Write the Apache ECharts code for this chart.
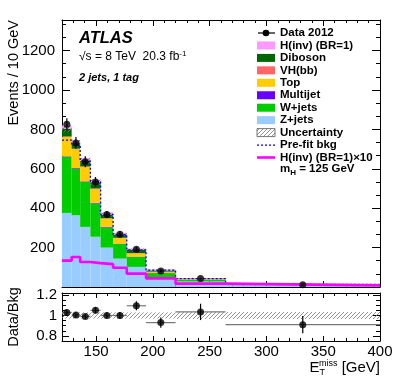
<!DOCTYPE html>
<html>
<head>
<meta charset="UTF-8">
<title>ZH(inv) 2 jets, 1 tag - MET</title>
<script src="https://cdn.jsdelivr.net/npm/echarts@6/dist/echarts.min.js"></script>
<style>
  html, body { margin: 0; padding: 0; background: #fff; }
  #chart { width: 399px; height: 383px; }
</style>
</head>
<body>
<div id="chart"></div>
<script>
// bin edges, E_T^miss [GeV]
var binEdges = [120, 128.5, 136, 145, 154, 165, 177, 194, 220, 264, 400];

// events / 10 GeV in each bin (stack, bottom to top)
var zjets    = [376, 364, 305, 255, 200, 144, 102, 50, 28, 9];
var wjets    = [284, 237, 228, 169, 102, 74, 50, 20, 8, 2.5];
var multijet = [3, 3, 3, 3, 3, 2, 2, 1, 0.5, 0.2];
var topQuark = [98, 95, 73, 70, 42, 28, 16, 6, 3, 0.8];
var vhbb     = [3, 3, 3, 3, 2, 2, 2, 1, 0.5, 0.2];
var diboson  = [40, 28, 28, 32, 18, 16, 16, 6, 3, 0.6];
var hinv     = [13, 15, 13, 12, 11.5, 9.5, 7, 4.5, 2, 0.8];

var hinvX10  = [134, 152, 127, 121, 116, 98, 68, 44, 17, 8];
var prefit   = [745, 720, 640, 535, 368, 266, 188, 86, 43, 13];
var bkgUnc   = [20, 18, 16, 14, 10, 8, 7, 4, 2, 1];
var data     = [826, 731, 636, 533, 368, 268, 192, 81, 43, 12];
var dataErr  = [30, 30, 28, 25, 18, 15, 11, 6, 3, 1];

// ratio panel
var ratio    = [1.03, 1.005, 0.99, 1.05, 1.0, 1.0, 1.095, 0.93, 1.035, 0.91];
var ratioErr = [0.025, 0.025, 0.025, 0.03, 0.03, 0.035, 0.045, 0.05, 0.08, 0.085];
var ratioUnc = [0.03, 0.03, 0.03, 0.03, 0.03, 0.03, 0.03, 0.03, 0.035, 0.035];

// axes
var xMin = 120, xMax = 400;
var xMajor = [150, 200, 250, 300, 350, 400];
var yMax = 1355;
var rMin = 0.75, rMax = 1.22;
var rMajor = [0.8, 1, 1.2];
var rMinor = [0.75, 0.8, 0.85, 0.9, 0.95, 1, 1.05, 1.1, 1.15, 1.2];

var legendNames = ['Data 2012', 'H(inv) (BR=1)', 'Diboson', 'VH(bb)', 'Top', 'Multijet',
                   'W+jets', 'Z+jets', 'Uncertainty', 'Pre-fit bkg', 'H(inv) (BR=1)\u00d710'];

var FONT = '"Liberation Sans", Arial, Helvetica, sans-serif';

var C_Z = '#99ccff', C_W = '#00cc00', C_MJ = '#6600ff', C_TOP = '#ffcc00',
    C_VH = '#ff6666', C_DB = '#006600', C_H = '#ff99ff';

function hatch() {
  var s = 4;
  var c = document.createElement('canvas');
  c.width = s; c.height = s;
  var g = c.getContext('2d');
  g.strokeStyle = '#777';
  g.lineWidth = 0.8;
  g.beginPath();
  g.moveTo(0, s); g.lineTo(s, 0);
  g.moveTo(-1, 1); g.lineTo(1, -1);
  g.moveTo(s - 1, s + 1); g.lineTo(s + 1, s - 1);
  g.stroke();
  return { image: c, repeat: 'repeat' };
}
var hatchFill = hatch();

var centers = binEdges.slice(0, -1).map(function (e, i) { return (e + binEdges[i + 1]) / 2; });

// cumulative stack
var comps = [zjets, wjets, multijet, topQuark, vhbb, diboson, hinv];
var compColors = [C_Z, C_W, C_MJ, C_TOP, C_VH, C_DB, C_H];
var cum = [zjets.map(function () { return 0; })];
comps.forEach(function (a, k) {
  cum.push(a.map(function (v, i) { return cum[k][i] + v; }));
});
var bkgTotal = cum[6];

function boxSeries(lo, hi, fill, xi, yi) {
  return {
    type: 'custom', xAxisIndex: xi, yAxisIndex: yi, silent: true, clip: true,
    data: lo.map(function (l, i) { return [binEdges[i], binEdges[i + 1], l, hi[i]]; }),
    encode: { x: [0, 1], y: [2, 3] },
    renderItem: function (params, api) {
      var p0 = api.coord([api.value(0), api.value(3)]);
      var p1 = api.coord([api.value(1), api.value(2)]);
      return { type: 'rect', shape: { x: p0[0], y: p0[1], width: p1[0] - p0[0], height: p1[1] - p0[1] },
               style: { fill: fill } };
    }
  };
}

function stepSeries(vals, color, width, dash, z) {
  var pts = binEdges.map(function (e, i) { return [e, vals[Math.min(i, vals.length - 1)]]; });
  return {
    type: 'line', xAxisIndex: 0, yAxisIndex: 0, step: 'end', data: pts, showSymbol: false,
    silent: true, z: z,
    lineStyle: { color: color, width: width, type: dash ? [2, 2] : 'solid' }
  };
}

function errSeries(vals, errs, xi, yi, hColor, withH) {
  return {
    type: 'custom', xAxisIndex: xi, yAxisIndex: yi, silent: true, z: 5,
    data: vals.map(function (v, i) { return [centers[i], v, errs[i], binEdges[i], binEdges[i + 1]]; }),
    encode: { x: 0, y: 1 },
    renderItem: function (params, api) {
      var x = api.value(0), v = api.value(1), e = api.value(2);
      var a = api.coord([x, v - e]), b = api.coord([x, v + e]);
      var kids = [{ type: 'line', shape: { x1: a[0], y1: a[1], x2: b[0], y2: b[1] },
                    style: { stroke: '#000', lineWidth: 1.2 } }];
      if (withH) {
        var l = api.coord([api.value(3), v]), r = api.coord([api.value(4), v]);
        kids.unshift({ type: 'line', shape: { x1: l[0], y1: l[1], x2: r[0], y2: r[1] },
                       style: { stroke: hColor, lineWidth: 1.2 } });
      }
      return { type: 'group', children: kids };
    }
  };
}

function xAxes(gi, majLen, minLen, labels) {
  var base = { type: 'value', gridIndex: gi, min: xMin, max: xMax, splitLine: { show: false } };
  var out = [];
  ['bottom', 'top'].forEach(function (pos) {
    out.push(Object.assign({}, base, {
      position: pos, interval: 10,
      axisLine: { show: true, onZero: false, lineStyle: { color: '#000', width: 1 } },
      axisTick: { show: true, inside: true, length: minLen, lineStyle: { color: '#000' } },
      axisLabel: { show: false }
    }));
    out.push(Object.assign({}, base, {
      position: pos,
      axisLine: { show: false, onZero: false },
      axisTick: { show: true, inside: true, length: majLen, customValues: xMajor, lineStyle: { color: '#000' } },
      axisLabel: { show: labels && pos === 'bottom', customValues: xMajor, margin: 3,
                   fontFamily: FONT, fontSize: 15, color: '#000' }
    }));
  });
  return out;
}

var yAxes = [];
['left', 'right'].forEach(function (pos) {
  yAxes.push({
    type: 'value', gridIndex: 0, position: pos, min: 0, max: yMax, interval: 200,
    splitLine: { show: false },
    axisLine: { show: true, onZero: false, lineStyle: { color: '#000' } },
    axisTick: { show: true, inside: true, length: 8, lineStyle: { color: '#000' } },
    minorTick: { show: true, splitNumber: 3, length: 4, lineStyle: { color: '#000' } },
    axisLabel: { show: pos === 'left', margin: 7, fontFamily: FONT, fontSize: 15, color: '#000',
                 formatter: function (v) { return (v > 0 && v % 200 === 0) ? String(v) : ''; } }
  });
});
['left', 'right'].forEach(function (pos) {
  yAxes.push({
    type: 'value', gridIndex: 1, position: pos, min: rMin, max: rMax,
    splitLine: { show: false },
    axisLine: { show: true, onZero: false, lineStyle: { color: '#000' } },
    axisTick: { show: true, inside: true, length: 7, customValues: rMajor, lineStyle: { color: '#000' } },
    axisLabel: { show: pos === 'left', customValues: rMajor, margin: 5, fontFamily: FONT, fontSize: 15,
                 color: '#000', formatter: function (v) { return String(+(+v).toFixed(1)); } }
  });
  yAxes.push({
    type: 'value', gridIndex: 1, position: pos, min: rMin, max: rMax,
    splitLine: { show: false }, axisLine: { show: false },
    axisTick: { show: true, inside: true, length: 4, customValues: rMinor, lineStyle: { color: '#000' } },
    axisLabel: { show: false }
  });
});

var series = [];
comps.forEach(function (a, k) { series.push(boxSeries(cum[k], cum[k + 1], compColors[k], 0, 0)); });
series.push(boxSeries(bkgTotal.map(function (v, i) { return v - bkgUnc[i]; }),
                      bkgTotal.map(function (v, i) { return v + bkgUnc[i]; }), hatchFill, 0, 0));
series.push(stepSeries(prefit, '#0000ff', 1.3, true, 3));
series.push(stepSeries(hinvX10, '#ff00ff', 2.6, false, 4));
series.push(errSeries(data, dataErr, 0, 0, '#000', false));
series.push({ type: 'scatter', xAxisIndex: 0, yAxisIndex: 0, z: 6, silent: true, symbolSize: 7,
              itemStyle: { color: '#000' },
              data: data.map(function (v, i) { return [centers[i], v]; }) });

// ratio panel
series.push(boxSeries(ratioUnc.map(function (u) { return 1 - u; }),
                      ratioUnc.map(function (u) { return 1 + u; }), hatchFill, 4, 2));
series.push(errSeries(ratio, ratioErr, 4, 2, '#777', true));
series.push({ type: 'scatter', xAxisIndex: 4, yAxisIndex: 2, z: 6, silent: true, symbolSize: 7,
              itemStyle: { color: '#000' },
              data: ratio.map(function (v, i) { return [centers[i], v]; }) });

// legend + labels
var LX = 257, LW = 18, TX = 280, LY0 = 33, LDY = 12.45;
var gfx = [];
var boxFills = [null, C_H, C_DB, C_VH, C_TOP, C_MJ, C_W, C_Z, hatchFill];
legendNames.forEach(function (name, i) {
  var y = LY0 + i * LDY;
  if (i === 0) {
    gfx.push({ type: 'line', shape: { x1: LX + 1, y1: y, x2: LX + LW, y2: y }, style: { stroke: '#000', lineWidth: 1.2 } });
    gfx.push({ type: 'circle', shape: { cx: LX + LW / 2, cy: y, r: 3.3 }, style: { fill: '#000' } });
  } else if (i <= 8) {
    gfx.push({ type: 'rect', shape: { x: LX, y: y - 4, width: LW, height: 8 },
               style: { fill: boxFills[i], stroke: i === 8 ? '#555' : null, lineWidth: 0.8 } });
  } else if (i === 9) {
    gfx.push({ type: 'line', shape: { x1: LX, y1: y, x2: LX + LW, y2: y }, style: { stroke: '#0000ff', lineWidth: 1.3, lineDash: [2, 2] } });
  } else {
    gfx.push({ type: 'line', shape: { x1: LX, y1: y, x2: LX + LW, y2: y }, style: { stroke: '#ff00ff', lineWidth: 2.6 } });
  }
  gfx.push({ type: 'text', x: TX, y: y, style: { text: name, font: 'bold 11.5px ' + FONT, fill: '#000', verticalAlign: 'middle' } });
});
gfx.push({ type: 'text', x: TX, y: LY0 + 11 * LDY - 1, style: {
  text: '{a|m}{s|H}{a| = 125 GeV}', verticalAlign: 'middle', fill: '#000',
  rich: { a: { font: 'bold 11.5px ' + FONT }, s: { font: 'bold 8px ' + FONT, padding: [7, 0, 0, 0] } } } });

gfx.push({ type: 'text', x: 79, y: 38, style: { text: 'ATLAS', font: 'italic bold 16.5px ' + FONT, fill: '#000', verticalAlign: 'middle' } });
gfx.push({ type: 'text', x: 79, y: 57, style: {
  text: '{a|\u221As = 8 TeV  20.3 fb}{s|-1}', verticalAlign: 'middle', fill: '#000',
  rich: { a: { font: '12px ' + FONT }, s: { font: '8px ' + FONT, padding: [0, 0, 7, 0] } } } });
gfx.push({ type: 'text', x: 79, y: 78, style: { text: '2 jets, 1 tag', font: 'italic bold 11px ' + FONT, fill: '#000', verticalAlign: 'middle' } });

gfx.push({ type: 'text', x: 14, y: 20, rotation: Math.PI / 2, style: {
  text: 'Events / 10 GeV', font: '14.5px ' + FONT, fill: '#000', align: 'right', verticalAlign: 'middle' } });
gfx.push({ type: 'text', x: 14, y: 317, rotation: Math.PI / 2, style: {
  text: 'Data/Bkg', font: '14.5px ' + FONT, fill: '#000', align: 'center', verticalAlign: 'middle' } });
gfx.push({ type: 'text', x: 380, y: 368, style: {
  text: '{a|E}{b|T}{c|miss}{a| [GeV]}', align: 'right', verticalAlign: 'middle', fill: '#000',
  rich: { a: { font: '15px ' + FONT }, b: { font: '9px ' + FONT, padding: [9, 0, 0, 0] },
          c: { font: '9px ' + FONT, padding: [0, 0, 8, -6] } } } });

var chart = echarts.init(document.getElementById('chart'), null, { renderer: 'canvas' });
chart.setOption({
  animation: false,
  backgroundColor: '#fff',
  grid: [
    { left: 62, top: 20, width: 318, height: 267 },
    { left: 62, top: 293, width: 318, height: 48 }
  ],
  xAxis: xAxes(0, 6, 3, false).concat(xAxes(1, 5, 3, true)),
  yAxis: yAxes,
  series: series,
  graphic: gfx
});
</script>
</body>
</html>
